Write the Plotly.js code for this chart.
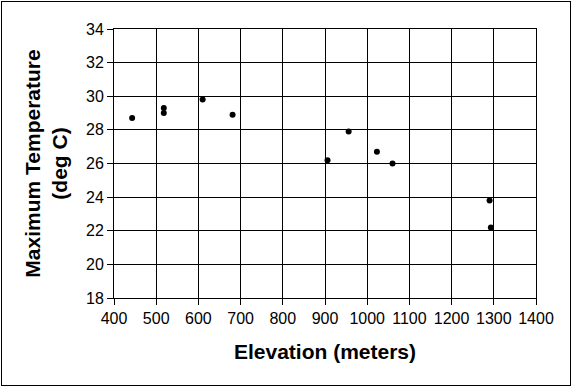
<!DOCTYPE html>
<html>
<head>
<meta charset="utf-8">
<script src="https://cdn.plot.ly/plotly-3.0.1.min.js"></script>
<style>
html,body{margin:0;padding:0;background:#fff;}
#wrap{position:relative;width:572px;height:387px;}
#chart{position:absolute;left:0;top:0;width:572px;height:387px;}
#frame{position:absolute;left:1px;top:1px;width:568px;height:383px;border:1px solid #000;pointer-events:none;}
</style>
</head>
<body>
<div id="wrap"><div id="chart"></div><div id="frame"></div></div>
<script>
var elevation = [443, 518, 518, 610, 681, 906, 956, 1023, 1060, 1290, 1293];
var maxTemp = [28.7, 29.3, 29.0, 29.8, 28.9, 26.2, 27.9, 26.7, 26.0, 23.8, 22.2];
var xTitle = "Elevation (meters)";
var yTitle = "Maximum Temperature<br>(deg C)";

var font = "Liberation Sans, Arial, sans-serif";
var trace = {
  x: elevation, y: maxTemp, type: "scatter", mode: "markers",
  marker: {color: "#000", size: 6}
};
var layout = {
  width: 572, height: 387,
  margin: {l: 114, r: 35.5, t: 28.5, b: 88.5},
  paper_bgcolor: "#fff", plot_bgcolor: "#fff",
  showlegend: false,
  font: {family: font, color: "#000", size: 16},
  xaxis: {
    range: [400, 1400], dtick: 100, tick0: 400,
    showgrid: true, gridcolor: "#000", gridwidth: 1,
    showline: true, linecolor: "#000", linewidth: 1, mirror: true,
    ticks: "outside", ticklen: 6, tickcolor: "#000",
    zeroline: false, automargin: false,
    tickfont: {family: font, size: 16, color: "#000"},
    title: {text: xTitle, font: {family: font, size: 21, color: "#000", weight: "bold"}, standoff: 18}
  },
  yaxis: {
    range: [18, 34], dtick: 2, tick0: 18,
    showgrid: true, gridcolor: "#000", gridwidth: 1,
    showline: true, linecolor: "#000", linewidth: 1, mirror: true,
    ticks: "outside", ticklen: 6, tickcolor: "#000",
    zeroline: false, automargin: false,
    tickfont: {family: font, size: 16, color: "#000"},
    title: {text: yTitle, font: {family: font, size: 21, color: "#000", weight: "bold"}, standoff: 12}
  }
};
Plotly.newPlot("chart", [trace], layout, {displayModeBar: false, staticPlot: true});
</script>
</body>
</html>
